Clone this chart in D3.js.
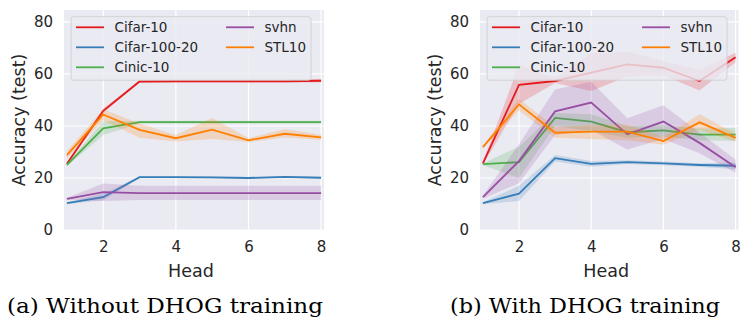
<!DOCTYPE html>
<html>
<head>
<meta charset="utf-8">
<script src="https://cdn.jsdelivr.net/npm/d3@7"></script>
<style>
  body { margin: 0; background: #fff; }
  svg text { font-family: "DejaVu Sans", sans-serif; fill: #262626; }
  svg text.caption { font-family: "DejaVu Serif", serif; fill: #000; }
</style>
</head>
<body>
<svg id="chart" width="741" height="321"></svg>
<script>
// heads on the x axis
var heads = [1, 2, 3, 4, 5, 6, 7, 8];
var seriesNames = ["Cifar-10", "Cifar-100-20", "Cinic-10", "svhn", "STL10"];
var seriesColors = ["#e41a1c", "#377eb8", "#4daf4a", "#984ea3", "#ff7f00"];
var yTicks = [0, 20, 40, 60, 80];
var xTicks = [2, 4, 6, 8];

// (a) without DHOG training: mean, low, high
var noCifar10 = [25.5, 45.8, 57.1, 57.2, 57.2, 57.2, 57.2, 57.4];
var noCifar10Lo = [25.0, 45.0, 56.6, 56.7, 56.7, 56.7, 56.7, 56.7];
var noCifar10Hi = [26.0, 46.6, 57.6, 57.7, 57.7, 57.7, 57.7, 58.1];
var noCifar100 = [10.3, 12.6, 20.3, 20.3, 20.2, 20.0, 20.4, 20.1];
var noCifar100Lo = [9.9, 11.4, 19.9, 19.9, 19.8, 19.6, 20.0, 19.7];
var noCifar100Hi = [10.7, 13.8, 20.7, 20.7, 20.6, 20.4, 20.8, 20.5];
var noCinic = [25.0, 39.1, 41.5, 41.5, 41.5, 41.5, 41.5, 41.5];
var noCinicLo = [24.5, 36.5, 41.0, 41.0, 41.0, 41.0, 41.0, 41.0];
var noCinicHi = [25.5, 41.8, 42.0, 42.0, 42.0, 42.0, 42.0, 42.0];
var noSvhn = [12.0, 14.6, 14.2, 14.2, 14.2, 14.2, 14.2, 14.2];
var noSvhnLo = [11.6, 11.2, 11.5, 11.5, 11.5, 11.5, 11.5, 11.5];
var noSvhnHi = [12.4, 17.9, 17.0, 17.0, 17.0, 17.0, 17.0, 17.0];
var noStl = [28.8, 44.4, 38.5, 35.3, 38.6, 34.5, 37.0, 35.6];
var noStlLo = [27.5, 42.2, 35.5, 34.0, 35.0, 33.8, 35.6, 34.6];
var noStlHi = [30.4, 46.4, 41.0, 36.5, 43.1, 35.3, 38.8, 36.6];

// (b) with DHOG training: mean, low, high
var withCifar10 = [25.6, 55.8, 57.3, 60.5, 63.7, 62.4, 57.3, 66.4];
var withCifar10Lo = [25.0, 48.5, 56.5, 53.5, 59.0, 59.5, 53.6, 64.5];
var withCifar10Hi = [26.2, 63.5, 58.5, 68.0, 68.5, 65.0, 61.5, 68.2];
var withCifar100 = [10.3, 14.0, 27.6, 25.4, 26.1, 25.6, 25.0, 24.7];
var withCifar100Lo = [9.9, 11.2, 26.3, 24.3, 25.4, 24.9, 24.3, 23.4];
var withCifar100Hi = [10.7, 17.0, 28.8, 26.5, 26.8, 26.3, 25.7, 26.0];
var withCinic = [25.3, 26.1, 43.1, 41.7, 37.6, 38.3, 36.7, 36.7];
var withCinicLo = [24.9, 20.0, 40.0, 38.0, 35.5, 36.0, 34.5, 34.2];
var withCinicHi = [25.7, 32.0, 45.0, 44.5, 40.0, 40.5, 39.0, 39.2];
var withSvhn = [12.6, 26.5, 45.6, 49.0, 36.8, 41.7, 33.5, 24.1];
var withSvhnLo = [12.0, 18.0, 36.5, 38.5, 31.0, 35.0, 29.5, 22.0];
var withSvhnHi = [13.2, 33.0, 54.0, 57.0, 43.0, 48.0, 37.5, 27.0];
var withStl = [31.9, 48.3, 37.4, 37.8, 37.8, 34.2, 41.4, 35.4];
var withStlLo = [31.3, 46.0, 35.5, 35.0, 34.5, 32.8, 38.5, 34.0];
var withStlHi = [32.5, 50.5, 39.5, 40.5, 40.5, 35.8, 44.5, 37.0];

var panels = [
  { left: 64, right: 324, caption: "(a) Without DHOG training", capX: 7, capW: 316,
    mean: [noCifar10, noCifar100, noCinic, noSvhn, noStl],
    lo: [noCifar10Lo, noCifar100Lo, noCinicLo, noSvhnLo, noStlLo],
    hi: [noCifar10Hi, noCifar100Hi, noCinicHi, noSvhnHi, noStlHi] },
  { left: 480, right: 738.5, caption: "(b) With DHOG training", capX: 450, capW: 270,
    mean: [withCifar10, withCifar100, withCinic, withSvhn, withStl],
    lo: [withCifar10Lo, withCifar100Lo, withCinicLo, withSvhnLo, withStlLo],
    hi: [withCifar10Hi, withCifar100Hi, withCinicHi, withSvhnHi, withStlHi] }
];

var svg = d3.select("#chart");
var plotTop = 10, plotBottom = 230;

panels.forEach(function(p) {
  var x = d3.scaleLinear().domain([0.92, 8.08]).range([p.left, p.right]);
  var y = d3.scaleLinear().domain([0, 84.6]).range([plotBottom, plotTop]);
  var g = svg.append("g");

  g.append("rect")
    .attr("x", p.left).attr("y", plotTop)
    .attr("width", p.right - p.left).attr("height", plotBottom - plotTop)
    .attr("fill", "#eaeaf2");

  // grid
  g.selectAll(".gx").data(xTicks).enter().append("line")
    .attr("x1", function(d){ return x(d); }).attr("x2", function(d){ return x(d); })
    .attr("y1", plotTop).attr("y2", plotBottom)
    .attr("stroke", "#fff").attr("stroke-width", 1.2);
  g.selectAll(".gy").data(yTicks).enter().append("line")
    .attr("x1", p.left).attr("x2", p.right)
    .attr("y1", function(d){ return y(d); }).attr("y2", function(d){ return y(d); })
    .attr("stroke", "#fff").attr("stroke-width", 1.2);

  // tick labels through d3 axes, no lines
  var xa = g.append("g").attr("transform", "translate(0," + plotBottom + ")")
    .call(d3.axisBottom(x).tickValues(xTicks).tickSize(0).tickPadding(11));
  var ya = g.append("g").attr("transform", "translate(" + p.left + ",0)")
    .call(d3.axisLeft(y).tickValues(yTicks).tickSize(0).tickPadding(11));
  [xa, ya].forEach(function(a) {
    a.select(".domain").remove();
    a.selectAll("text").attr("font-size", 15).attr("font-family", "DejaVu Sans").attr("fill", "#262626");
  });

  var clip = "clip" + p.left;
  g.append("clipPath").attr("id", clip).append("rect")
    .attr("x", p.left).attr("y", plotTop).attr("width", p.right - p.left).attr("height", plotBottom - plotTop);
  var plot = g.append("g").attr("clip-path", "url(#" + clip + ")");

  var area = d3.area()
    .x(function(d){ return x(d.h); })
    .y0(function(d){ return y(d.lo); })
    .y1(function(d){ return y(d.hi); });
  var line = d3.line()
    .x(function(d){ return x(d.h); })
    .y(function(d){ return y(d.v); });

  seriesNames.forEach(function(name, i) {
    var pts = heads.map(function(h, j) {
      return { h: h, v: p.mean[i][j], lo: p.lo[i][j], hi: p.hi[i][j] };
    });
    plot.append("path").datum(pts).attr("d", area)
      .attr("fill", seriesColors[i]).attr("fill-opacity", 0.2);
    plot.append("path").datum(pts).attr("d", line)
      .attr("fill", "none").attr("stroke", seriesColors[i]).attr("stroke-width", 1.8);
  });

  // legend
  var lx = p.left + 7, ly = 16.7;
  g.append("rect")
    .attr("x", lx).attr("y", ly).attr("width", 240).attr("height", 63.5)
    .attr("rx", 2.5)
    .attr("fill", "#eaeaf2").attr("fill-opacity", 0.8)
    .attr("stroke", "#cccccc").attr("stroke-width", 0.8);
  seriesNames.forEach(function(name, i) {
    var col = i < 3 ? 0 : 1, row = i < 3 ? i : i - 3;
    var ox = lx + 5 + col * 150, oy = 27.3 + row * 20;
    g.append("line")
      .attr("x1", ox).attr("x2", ox + 28).attr("y1", oy).attr("y2", oy)
      .attr("stroke", seriesColors[i]).attr("stroke-width", 1.8);
    g.append("text")
      .attr("x", ox + 38.5).attr("y", oy).attr("dy", "0.36em")
      .attr("font-size", 13.5).text(name);
  });

  // axis labels
  var cx = (p.left + p.right) / 2;
  g.append("text").attr("x", cx - 3).attr("y", 277)
    .attr("text-anchor", "middle").attr("font-size", 17.5).text("Head");
  g.append("text")
    .attr("transform", "translate(" + (p.left - 45) + "," + 120 + ") rotate(-90)")
    .attr("dy", "0.36em")
    .attr("text-anchor", "middle").attr("font-size", 17.5).text("Accuracy (test)");

  // caption
  g.append("text").attr("class", "caption").attr("x", p.capX).attr("y", 313)
    .attr("font-size", 20).attr("textLength", p.capW).attr("lengthAdjust", "spacingAndGlyphs")
    .text(p.caption);
});
</script>
</body>
</html>
